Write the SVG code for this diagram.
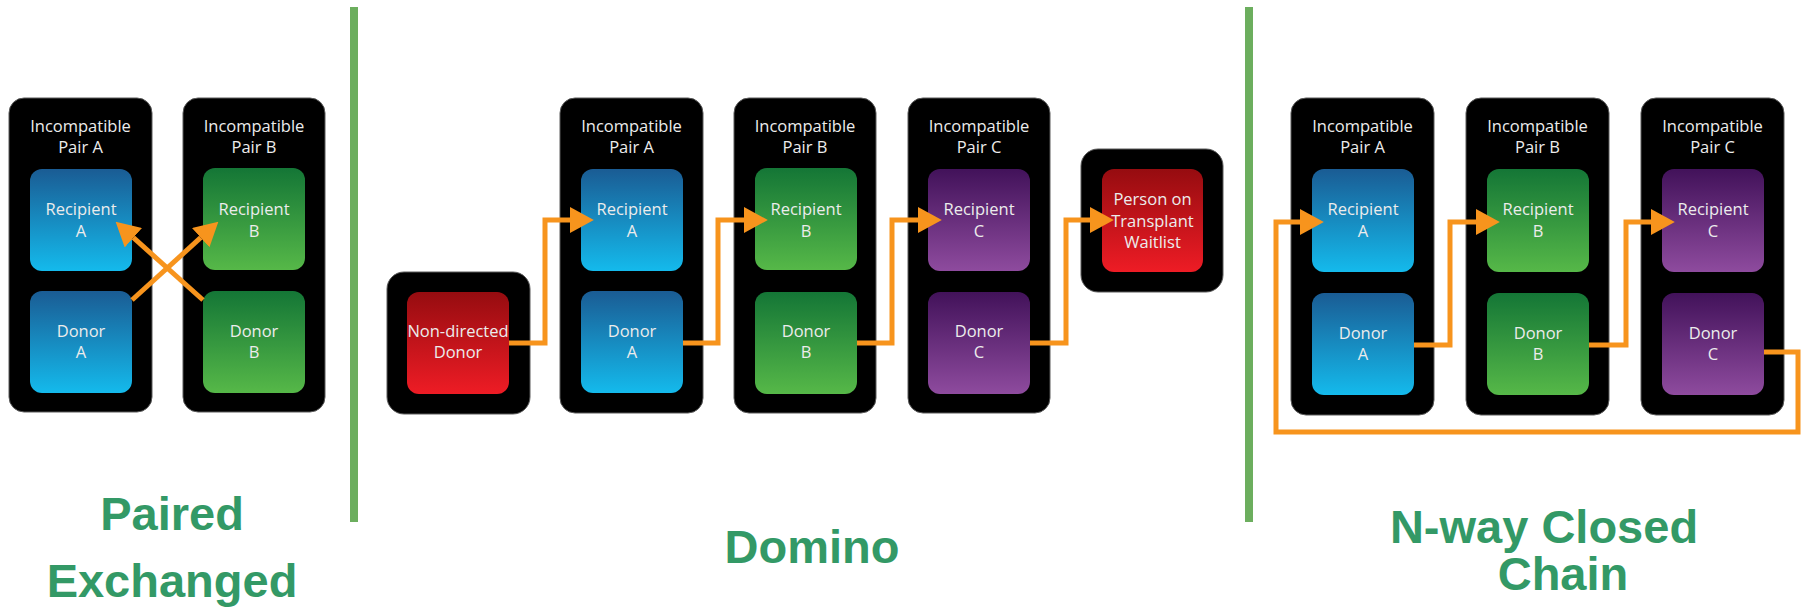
<svg xmlns="http://www.w3.org/2000/svg" width="1804" height="607" viewBox="0 0 1804 607">
<defs>
<linearGradient id="gBlue" x1="0" y1="0" x2="0" y2="1"><stop offset="0" stop-color="#1a5c94"/><stop offset="1" stop-color="#14baec"/></linearGradient>
<linearGradient id="gGreen" x1="0" y1="0" x2="0" y2="1"><stop offset="0" stop-color="#147636"/><stop offset="1" stop-color="#56b848"/></linearGradient>
<linearGradient id="gPurple" x1="0" y1="0" x2="0" y2="1"><stop offset="0" stop-color="#42125a"/><stop offset="1" stop-color="#8e4b9e"/></linearGradient>
<linearGradient id="gRed" x1="0" y1="0" x2="0" y2="1"><stop offset="0" stop-color="#960c10"/><stop offset="1" stop-color="#ee1c25"/></linearGradient>
<marker id="ah" markerUnits="userSpaceOnUse" markerWidth="24" markerHeight="26" viewBox="0 0 22 24" refX="0" refY="12" orient="auto">
<path d="M0,0 L22,12 L0,24 Z" fill="#f7941d"/>
</marker>
<style>
.outer{fill:#000;stroke:#5a5a5a;stroke-width:1}
.in{stroke:none}
.t{font-family:"Open Sans","Liberation Sans",sans-serif;font-size:16.5px;fill:#ececec;text-anchor:middle}
.lab{font-family:"Liberation Sans",Arial,sans-serif;font-weight:bold;font-size:47px;fill:#339966;text-anchor:middle}
.con{fill:none;stroke:#f7941d;stroke-width:5}
.sep{fill:#6cae5e}
</style>
</defs>

<rect class="sep" x="350" y="7" width="8" height="515"/>
<rect class="sep" x="1245" y="7" width="8" height="515"/>

<!-- Paired Exchange -->
<g id="p1-pairA">
<rect class="outer" x="9" y="98" width="143" height="314" rx="15"/>
<text class="t" x="80.5" y="132">Incompatible</text><text class="t" x="80.5" y="153">Pair A</text>
<rect class="in" x="30" y="169" width="102" height="102" rx="12" fill="url(#gBlue)"/>
<text class="t" x="81" y="215">Recipient</text><text class="t" x="81" y="237">A</text>
<rect class="in" x="30" y="291" width="102" height="102" rx="12" fill="url(#gBlue)"/>
<text class="t" x="81" y="337">Donor</text><text class="t" x="81" y="358">A</text>
</g>
<g id="p1-pairB">
<rect class="outer" x="183" y="98" width="142" height="314" rx="15"/>
<text class="t" x="254" y="132">Incompatible</text><text class="t" x="254" y="153">Pair B</text>
<rect class="in" x="203" y="168" width="102" height="102" rx="12" fill="url(#gGreen)"/>
<text class="t" x="254" y="215">Recipient</text><text class="t" x="254" y="237">B</text>
<rect class="in" x="203" y="291" width="102" height="102" rx="12" fill="url(#gGreen)"/>
<text class="t" x="254" y="337">Donor</text><text class="t" x="254" y="358">B</text>
</g>

<!-- Domino -->
<g id="d-ndd">
<rect class="outer" x="387" y="272" width="143" height="142" rx="17"/>
<rect class="in" x="407" y="292" width="102" height="102" rx="12" fill="url(#gRed)"/>
<text class="t" x="458" y="337">Non-directed</text><text class="t" x="458" y="358">Donor</text>
</g>
<g id="d-pairA">
<rect class="outer" x="560" y="98" width="143" height="315" rx="15"/>
<text class="t" x="631.5" y="132">Incompatible</text><text class="t" x="631.5" y="153">Pair A</text>
<rect class="in" x="581" y="169" width="102" height="102" rx="12" fill="url(#gBlue)"/>
<text class="t" x="632" y="215">Recipient</text><text class="t" x="632" y="237">A</text>
<rect class="in" x="581" y="291" width="102" height="102" rx="12" fill="url(#gBlue)"/>
<text class="t" x="632" y="337">Donor</text><text class="t" x="632" y="358">A</text>
</g>
<g id="d-pairB">
<rect class="outer" x="734" y="98" width="142" height="315" rx="15"/>
<text class="t" x="805" y="132">Incompatible</text><text class="t" x="805" y="153">Pair B</text>
<rect class="in" x="755" y="168" width="102" height="102" rx="12" fill="url(#gGreen)"/>
<text class="t" x="806" y="215">Recipient</text><text class="t" x="806" y="237">B</text>
<rect class="in" x="755" y="292" width="102" height="102" rx="12" fill="url(#gGreen)"/>
<text class="t" x="806" y="337">Donor</text><text class="t" x="806" y="358">B</text>
</g>
<g id="d-pairC">
<rect class="outer" x="908" y="98" width="142" height="315" rx="15"/>
<text class="t" x="979" y="132">Incompatible</text><text class="t" x="979" y="153">Pair C</text>
<rect class="in" x="928" y="169" width="102" height="102" rx="12" fill="url(#gPurple)"/>
<text class="t" x="979" y="215">Recipient</text><text class="t" x="979" y="237">C</text>
<rect class="in" x="928" y="292" width="102" height="102" rx="12" fill="url(#gPurple)"/>
<text class="t" x="979" y="337">Donor</text><text class="t" x="979" y="358">C</text>
</g>
<g id="d-waitlist">
<rect class="outer" x="1081" y="149" width="142" height="143" rx="17"/>
<rect class="in" x="1102" y="169" width="101" height="103" rx="12" fill="url(#gRed)"/>
<text class="t" x="1152.5" y="205">Person on</text><text class="t" x="1152.5" y="227">Transplant</text><text class="t" x="1152.5" y="248">Waitlist</text>
</g>

<!-- N-way Closed Chain -->
<g id="c-pairA">
<rect class="outer" x="1291" y="98" width="143" height="317" rx="15"/>
<text class="t" x="1362.5" y="132">Incompatible</text><text class="t" x="1362.5" y="153">Pair A</text>
<rect class="in" x="1312" y="169" width="102" height="103" rx="12" fill="url(#gBlue)"/>
<text class="t" x="1363" y="215">Recipient</text><text class="t" x="1363" y="237">A</text>
<rect class="in" x="1312" y="293" width="102" height="102" rx="12" fill="url(#gBlue)"/>
<text class="t" x="1363" y="339">Donor</text><text class="t" x="1363" y="360">A</text>
</g>
<g id="c-pairB">
<rect class="outer" x="1466" y="98" width="143" height="317" rx="15"/>
<text class="t" x="1537.5" y="132">Incompatible</text><text class="t" x="1537.5" y="153">Pair B</text>
<rect class="in" x="1487" y="169" width="102" height="103" rx="12" fill="url(#gGreen)"/>
<text class="t" x="1538" y="215">Recipient</text><text class="t" x="1538" y="237">B</text>
<rect class="in" x="1487" y="293" width="102" height="102" rx="12" fill="url(#gGreen)"/>
<text class="t" x="1538" y="339">Donor</text><text class="t" x="1538" y="360">B</text>
</g>
<g id="c-pairC">
<rect class="outer" x="1641" y="98" width="143" height="317" rx="15"/>
<text class="t" x="1712.5" y="132">Incompatible</text><text class="t" x="1712.5" y="153">Pair C</text>
<rect class="in" x="1662" y="169" width="102" height="103" rx="12" fill="url(#gPurple)"/>
<text class="t" x="1713" y="215">Recipient</text><text class="t" x="1713" y="237">C</text>
<rect class="in" x="1662" y="293" width="102" height="102" rx="12" fill="url(#gPurple)"/>
<text class="t" x="1713" y="339">Donor</text><text class="t" x="1713" y="360">C</text>
</g>

<g id="connectors">
<path class="con" d="M132,300 L200.7,237.7" marker-end="url(#ah)"/>
<path class="con" d="M203,300 L133.4,237.7" marker-end="url(#ah)"/>
<path class="con" d="M509,343 H545 V220 H570" marker-end="url(#ah)"/>
<path class="con" d="M683,343 H718 V220 H744" marker-end="url(#ah)"/>
<path class="con" d="M857,343 H892 V220 H918" marker-end="url(#ah)"/>
<path class="con" d="M1030,343 H1066 V220 H1090" marker-end="url(#ah)"/>
<path class="con" d="M1414,345 H1450 V222 H1476" marker-end="url(#ah)"/>
<path class="con" d="M1589,345 H1626 V222 H1651" marker-end="url(#ah)"/>
<path class="con" d="M1764,352 H1798 V432 H1276 V222 H1300" marker-end="url(#ah)"/>
</g>

<text class="lab" x="172" y="530">Paired</text>
<text class="lab" x="172" y="597">Exchanged</text>
<text class="lab" x="812" y="563">Domino</text>
<text class="lab" x="1544" y="543">N-way Closed</text>
<text class="lab" x="1563" y="590">Chain</text>
</svg>
